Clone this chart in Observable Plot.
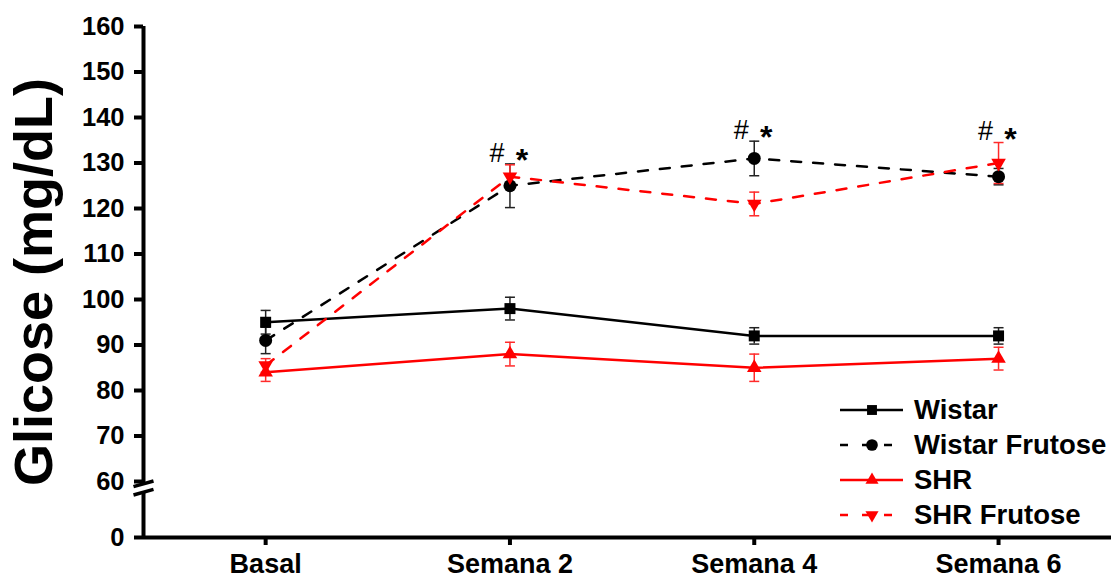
<!DOCTYPE html>
<html>
<head>
<meta charset="utf-8">
<script src="https://cdn.jsdelivr.net/npm/d3@7"></script>
<script src="https://cdn.jsdelivr.net/npm/@observablehq/plot@0.6"></script>
<style>
  html, body { margin: 0; padding: 0; background: #fff; }
  #wrap { position: relative; width: 1111px; height: 577px; font-family: "Liberation Sans", Arial, sans-serif; }
  #legend { position: absolute; left: 840px; top: 392px; }
  .row { display: flex; align-items: center; height: 35px; }
  .row span { margin-left: 10px; font-size: 27.5px; font-weight: bold; color: #000; line-height: 1; }
</style>
</head>
<body>
<div id="wrap"><div id="legend"></div></div>
<script>
// Time points
const categories = ["Basal", "Semana 2", "Semana 4", "Semana 6"];

// Mean glucose (mg/dL) and standard error per group
const wistar = [95, 98, 92, 92];
const wistarErr = [2.6, 2.5, 1.8, 1.8];
const wistarFrutose = [91, 125, 131, 127];
const wistarFrutoseErr = [2.9, 4.8, 3.8, 1.8];
const shr = [84, 88, 85, 87];
const shrErr = [2.0, 2.6, 3.0, 2.5];
const shrFrutose = [85.5, 127, 121, 130];
const shrFrutoseErr = [1.5, 2.6, 2.6, 4.5];

// Significance marks above the fructose groups
const markWeeks = ["Semana 2", "Semana 4", "Semana 6"];

const yTicks = [0, 60, 70, 80, 90, 100, 110, 120, 130, 140, 150, 160];

// Axis break between 0 and 60
const breakLo = 48.5, breakHi = 57.5;

const font = '"Liberation Sans", Arial, sans-serif';

// Custom symbols: downward triangle, error-bar cap, axis break slash
const triangleDown = {
  draw(ctx, size) {
    const s = Math.sqrt(size * 4 / Math.sqrt(3));
    const h = s * Math.sqrt(3) / 2;
    ctx.moveTo(0, h * 2 / 3);
    ctx.lineTo(-s / 2, -h / 3);
    ctx.lineTo(s / 2, -h / 3);
    ctx.closePath();
  }
};
const cap = {
  draw(ctx, size) {
    const w = Math.sqrt(size / Math.PI);
    ctx.moveTo(-w, 0);
    ctx.lineTo(w, 0);
  }
};
const slash = {
  draw(ctx) {
    ctx.moveTo(-10, 2.8);
    ctx.lineTo(10, -2.8);
  }
};

const series = [
  {name: "Wistar", values: wistar, err: wistarErr, color: "#000", dash: null, symbol: "square", r: 6.2},
  {name: "Wistar Frutose", values: wistarFrutose, err: wistarFrutoseErr, color: "#000", dash: "10,12", symbol: "circle", r: 6.5},
  {name: "SHR", values: shr, err: shrErr, color: "#ff0000", dash: null, symbol: "triangle", r: 5.4},
  {name: "SHR Frutose", values: shrFrutose, err: shrFrutoseErr, color: "#ff0000", dash: "10,12", symbol: triangleDown, r: 5.4}
];

const rows = series.map(s => s.values.map((v, i) => ({i, v, lo: v - s.err[i], hi: v + s.err[i]})));

const annotations = markWeeks.map(w => {
  const i = categories.indexOf(w);
  return {i, top: d3.max(series, s => s.values[i] + s.err[i])};
});

const marks = [];

// Lines
series.forEach((s, k) => {
  marks.push(Plot.line(rows[k], {x: "i", y: "v", stroke: s.color, strokeWidth: 2.5, strokeDasharray: s.dash}));
});
// Error bars
series.forEach((s, k) => {
  const eb = s.color === "#000" ? "#222" : "#ff2a2a";
  marks.push(Plot.ruleX(rows[k], {x: "i", y1: "lo", y2: "hi", stroke: eb, strokeWidth: 1.5}));
  marks.push(Plot.dot(rows[k], {x: "i", y: "lo", symbol: cap, r: 5, stroke: eb, strokeWidth: 1.5}));
  marks.push(Plot.dot(rows[k], {x: "i", y: "hi", symbol: cap, r: 5, stroke: eb, strokeWidth: 1.5}));
});
// Points
series.forEach((s, k) => {
  marks.push(Plot.dot(rows[k], {x: "i", y: "v", symbol: s.symbol, r: s.r, fill: s.color, stroke: "none"}));
});

// Significance labels
marks.push(Plot.text(annotations, {x: "i", y: "top", text: () => "#", dx: -13, dy: -11, fontSize: 27, fill: "#000"}));
marks.push(Plot.text(annotations, {x: "i", y: "top", text: () => "*", dx: 12, dy: -3, fontSize: 32, fontWeight: "bold", fill: "#000"}));

// Axes
marks.push(Plot.ruleY([0], {stroke: "#000", strokeWidth: 4}));
marks.push(Plot.ruleX([-0.5], {y1: 0, y2: breakLo, stroke: "#000", strokeWidth: 4}));
marks.push(Plot.ruleX([-0.5], {y1: breakHi, y2: 160, stroke: "#000", strokeWidth: 4}));
marks.push(Plot.dot([breakLo, breakHi], {x: () => -0.5, y: d => d, symbol: slash, stroke: "#000", strokeWidth: 3.5}));
marks.push(Plot.axisY({ticks: yTicks, tickSize: 9, tickPadding: 10, strokeWidth: 4, fontSize: 25.5, fontWeight: "bold", label: null, fill: "#000"}));
marks.push(Plot.axisX({ticks: [0, 1, 2, 3], tickFormat: i => categories[i], tickSize: 8, tickPadding: 8, strokeWidth: 4, fontSize: 27, fontWeight: "bold", label: null, fill: "#000"}));

// Y axis title
marks.push(Plot.text(["Glicose (mg/dL)"], {frameAnchor: "left", textAnchor: "middle", rotate: -90, dx: -109, fontSize: 54, fontWeight: "bold", fill: "#000"}));

const chart = Plot.plot({
  width: 1111,
  height: 577,
  marginLeft: 143,
  marginRight: 0,
  marginTop: 26,
  marginBottom: 40,
  style: {fontFamily: font, background: "#fff", overflow: "visible"},
  x: {type: "linear", domain: [-0.5, 3.5], range: [143, 143 + 4 * 244.3]},
  y: {type: "linear", domain: [0, 60, 160], range: [537, 481, 26]},
  marks
});

const wrap = document.getElementById("wrap");
wrap.insertBefore(chart, wrap.firstChild);

// Legend drawn over the lower right of the plot area
const legend = d3.select("#legend");
series.forEach(s => {
  const row = legend.append("div").attr("class", "row");
  const svg = row.append("svg").attr("width", 64).attr("height", 30);
  svg.append("line")
    .attr("x1", 0).attr("x2", 63).attr("y1", 15).attr("y2", 15)
    .attr("stroke", s.color).attr("stroke-width", 2.5)
    .attr("stroke-dasharray", s.dash ? "8,14" : null);
  const sym = typeof s.symbol === "string"
    ? {square: d3.symbolSquare, circle: d3.symbolCircle, triangle: d3.symbolTriangle}[s.symbol]
    : s.symbol;
  svg.append("path")
    .attr("transform", "translate(32,15)")
    .attr("d", d3.symbol(sym, Math.PI * (s.r * 0.9) ** 2)())
    .attr("fill", s.color);
  row.append("span").text(s.name);
});
</script>
</body>
</html>
